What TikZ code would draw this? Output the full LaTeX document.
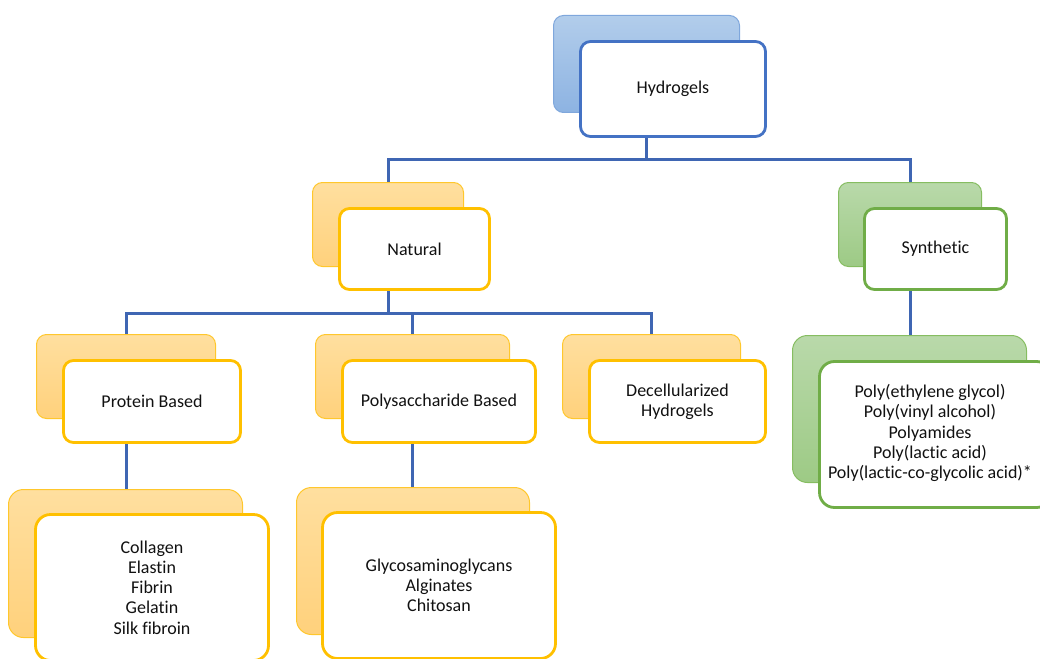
\documentclass[tikz,border=0pt]{standalone}
\usepackage{fontspec}
\setmainfont{Carlito}[Ligatures=NoCommon]
\usetikzlibrary{backgrounds}
\definecolor{bluefr}{HTML}{4472C4}
\definecolor{blueedge}{HTML}{7FA7DC}
\definecolor{bluetop}{HTML}{B2CDEB}
\definecolor{bluebot}{HTML}{8DB3E2}
\definecolor{goldfr}{HTML}{FFC000}
\definecolor{goldedge}{HTML}{FFC72C}
\definecolor{goldtop}{HTML}{FFDF9F}
\definecolor{goldbot}{HTML}{FFD17C}
\definecolor{greenfr}{HTML}{70AD47}
\definecolor{greenedge}{HTML}{86BD61}
\definecolor{greentop}{HTML}{B9D9AA}
\definecolor{greenbot}{HTML}{9DCA85}
\definecolor{txt}{HTML}{111111}
\definecolor{conncol}{HTML}{3F66B3}
\tikzset{
  box/.style={rectangle, rounded corners=10pt, inner sep=0pt, align=center,
    font=\fontsize{18}{20.3}\selectfont, text=txt},
  frontbox/.style={box, fill=white, line width=2.8pt},
  backbox/.style={box, line width=1pt},
  bluefront/.style={frontbox, draw=bluefr},
  blueback/.style={backbox, draw=blueedge, top color=bluetop, bottom color=bluebot},
  goldfront/.style={frontbox, draw=goldfr},
  goldback/.style={backbox, draw=goldedge, top color=goldtop, bottom color=goldbot},
  greenfront/.style={frontbox, draw=greenfr},
  greenback/.style={backbox, draw=greenedge, top color=greentop, bottom color=greenbot},
  tall/.style={rounded corners=15pt},
  conn/.style={draw=conncol, line width=3pt},
}
\begin{document}
\begin{tikzpicture}[x=1pt, y=-1pt]
\path[use as bounding box] (0,0) rectangle (1040,658);
\clip (0,0) rectangle (1040,658);
\coordinate (bus1) at (0,159);
\coordinate (bus2) at (0,313);
% back boxes
\node[blueback, minimum width=186pt, minimum height=97pt] (hydB) at (646.5,64) {};
\node[goldback, minimum width=151pt, minimum height=84pt] (natB) at (388,224.5) {};
\node[greenback, minimum width=143pt, minimum height=84pt] (synB) at (910,224.5) {};
\node[goldback, minimum width=179pt, minimum height=84pt] (protB) at (126,376.5) {};
\node[goldback, minimum width=194pt, minimum height=84pt] (polyB) at (412.5,376.5) {};
\node[goldback, minimum width=178pt, minimum height=84pt] (decB) at (651.5,376.5) {};
\node[goldback, tall, minimum width=234pt, minimum height=148pt] (colB) at (125.5,563.5) {};
\node[goldback, tall, minimum width=233pt, minimum height=147pt] (glyB) at (413,561) {};
\node[greenback, tall, minimum width=234pt, minimum height=147pt] (slB) at (909.5,409) {};
% front boxes
\node[bluefront, minimum width=185pt, minimum height=95pt] (hyd) at (673,89) {Hydrogels};
\node[goldfront, minimum width=150pt, minimum height=81pt] (nat) at (414.5,249) {Natural};
\node[greenfront, minimum width=142pt, minimum height=81pt] (syn) at (935.5,249) {Synthetic};
\node[goldfront, minimum width=177pt, minimum height=82pt] (prot) at (152,401.5) {Protein Based};
\node[goldfront, minimum width=193pt, minimum height=82pt] (poly) at (439,401.5) {Polysaccharide Based};
\node[goldfront, minimum width=176pt, minimum height=82pt] (dec) at (677.5,401.5) {Decellularized\\Hydrogels};
\node[goldfront, tall, minimum width=233pt, minimum height=146pt] (col) at (152,587.5)
  {Collagen\\Elastin\\Fibrin\\Gelatin\\Silk fibroin};
\node[goldfront, tall, minimum width=233pt, minimum height=146pt] (gly) at (439,585.5)
  {Glycosaminoglycans\\Alginates\\Chitosan};
\node[greenfront, tall, minimum width=232pt, minimum height=146pt] (sl) at (935.5,434.5) {};
\node[font=\fontsize{18}{20.3}\selectfont, text=txt, align=center, inner sep=0pt] (sltext) at (930,433)
  {Poly(ethylene glycol)\\Poly(vinyl alcohol)\\Polyamides\\Poly(lactic acid)\\Poly(lactic-co-glycolic acid)*};
% connectors (behind boxes)
\begin{scope}[on background layer]
\draw[conn] (hydB.center |- hyd.south) -- (hydB.center |- bus1) -| (natB.north);
\draw[conn] (hydB.center |- bus1) -| (synB.north);
\draw[conn] (natB.center |- nat.south) -- (natB.center |- bus2) -| (protB.north);
\draw[conn] (natB.center |- bus2) -| (polyB.north);
\draw[conn] (natB.center |- bus2) -| (decB.north);
\draw[conn] (protB.center |- prot.south) -- (protB.center |- colB.north);
\draw[conn] (polyB.center |- poly.south) -- (polyB.center |- glyB.north);
\draw[conn] (synB.center |- syn.south) -- (synB.center |- slB.north);
\end{scope}
\end{tikzpicture}
\end{document}
